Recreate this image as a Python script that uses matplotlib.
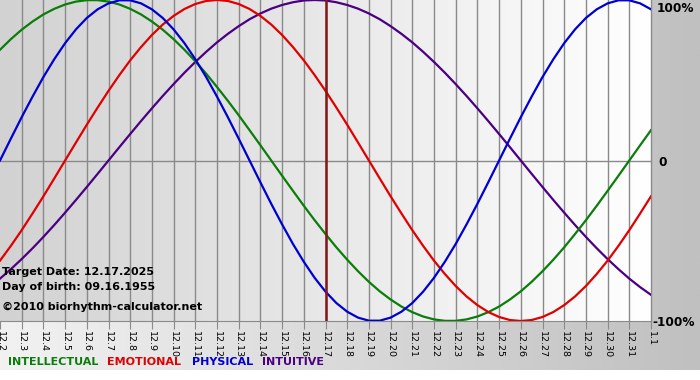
import numpy as np
import matplotlib.pyplot as plt
from matplotlib.colors import LinearSegmentedColormap

days = ["12.2", "12.3", "12.4", "12.5", "12.6", "12.7", "12.8", "12.9", "12.10",
        "12.11", "12.12", "12.13", "12.14", "12.15", "12.16", "12.17", "12.18",
        "12.19", "12.20", "12.21", "12.22", "12.23", "12.24", "12.25", "12.26",
        "12.27", "12.28", "12.29", "12.30", "12.31", "1.1"]
target_day = "12.17"

# values in -1..1 every half day, from 12.2 to 1.1
physical = [0.0, 0.136, 0.270, 0.398, 0.520, 0.631, 0.731, 0.817, 0.888, 0.942, 0.979,
            0.998, 0.998, 0.979, 0.942, 0.888, 0.817, 0.731, 0.631, 0.520, 0.398,
            0.270, 0.136, 0.0, -0.136, -0.270, -0.398, -0.520, -0.631, -0.731,
            -0.817, -0.888, -0.942, -0.979, -0.998, -0.998, -0.979, -0.942, -0.888,
            -0.817, -0.731, -0.631, -0.520, -0.398, -0.270, -0.136, 0.0, 0.136,
            0.270, 0.398, 0.520, 0.631, 0.731, 0.817, 0.888, 0.942, 0.979, 0.998,
            0.998, 0.979, 0.942]
emotional = [-0.624, -0.532, -0.434, -0.330, -0.223, -0.112, 0.0, 0.112, 0.223, 0.330,
             0.434, 0.532, 0.624, 0.707, 0.782, 0.847, 0.901, 0.944, 0.975, 0.994,
             1.0, 0.994, 0.975, 0.944, 0.901, 0.847, 0.782, 0.707, 0.624, 0.532,
             0.434, 0.330, 0.223, 0.112, 0.0, -0.112, -0.223, -0.330, -0.434, -0.532,
             -0.624, -0.707, -0.782, -0.847, -0.901, -0.944, -0.975, -0.994, -1.0,
             -0.994, -0.975, -0.944, -0.901, -0.847, -0.782, -0.707, -0.624, -0.532,
             -0.434, -0.330, -0.223]
intellectual = [0.690, 0.756, 0.815, 0.866, 0.910, 0.945, 0.972, 0.990, 0.999, 0.999,
                0.990, 0.972, 0.945, 0.910, 0.866, 0.815, 0.756, 0.690, 0.618, 0.541,
                0.458, 0.372, 0.282, 0.189, 0.095, 0.0, -0.095, -0.189, -0.282, -0.372,
                -0.458, -0.541, -0.618, -0.690, -0.756, -0.815, -0.866, -0.910, -0.945,
                -0.972, -0.990, -0.999, -0.999, -0.990, -0.972, -0.945, -0.910, -0.866,
                -0.815, -0.756, -0.690, -0.618, -0.541, -0.458, -0.372, -0.282, -0.189,
                -0.095, 0.0, 0.095, 0.189]
intuitive = [-0.736, -0.677, -0.614, -0.547, -0.476, -0.402, -0.325, -0.246, -0.165,
             -0.083, 0.0, 0.083, 0.165, 0.246, 0.325, 0.402, 0.476, 0.547, 0.614,
             0.677, 0.736, 0.789, 0.837, 0.880, 0.916, 0.946, 0.969, 0.986, 0.997,
             1.0, 0.997, 0.986, 0.969, 0.946, 0.916, 0.880, 0.837, 0.789, 0.736,
             0.677, 0.614, 0.547, 0.476, 0.402, 0.325, 0.246, 0.165, 0.083, 0.0,
             -0.083, -0.165, -0.246, -0.325, -0.402, -0.476, -0.547, -0.614, -0.677,
             -0.736, -0.789, -0.837]

fig = plt.figure(figsize=(7, 3.8), dpi=100)

grad = np.linspace(0, 1, 256).reshape(1, -1)
bg = fig.add_axes([0, 0, 1, 1])
bg.set_axis_off()
bg.imshow(grad, cmap=LinearSegmentedColormap.from_list('outer', ['#f2f2f2', '#c0c0c0']),
          extent=[0, 700, 10, 380], aspect='auto')
bg.set_xlim(0, 700)
bg.set_ylim(0, 380)

ax = fig.add_axes([0, 59 / 380, 651 / 700, 321 / 380])
x = np.arange(len(days))
t = np.arange(len(physical)) * 0.5
ax.imshow(grad, cmap=LinearSegmentedColormap.from_list('inner', ['#d2d2d2', '#ffffff']),
          extent=[0, 30, -1, 1], aspect='auto', zorder=0)
ax.set_xlim(0, 30)
ax.set_ylim(-1.0, 1.0)

grid_c = '#8a8a8a'
for i in x[1:]:
    ax.axvline(i, color=grid_c, lw=1, zorder=1, clip_on=False)
ax.axhline(0, color=grid_c, lw=1, zorder=1)

ax.plot(t, intuitive, color='#4b0082', lw=1.6, zorder=3)
ax.plot(t, intellectual, color='#0a7d0a', lw=1.6, zorder=3)
ax.plot(t, emotional, color='#e00000', lw=1.6, zorder=3)
ax.plot(t, physical, color='#0000d0', lw=1.6, zorder=3)
ax.axvline(days.index(target_day), color='#801818', lw=1.8, zorder=4)

for s in ['top', 'left', 'right']:
    ax.spines[s].set_visible(False)
ax.spines['bottom'].set_color(grid_c)
ax.set_yticks([])
ax.set_xticks(x)
ax.set_xticklabels(days, rotation=270, fontsize=6.8)
ax.tick_params(axis='x', length=6, color=grid_c, pad=1)

def px(xp, yp):
    return xp / 700, 1 - yp / 380

fig.text(*px(657, 8), "100%", fontsize=8.7, fontweight='bold', va='center')
fig.text(*px(658, 162), "0", fontsize=8.7, fontweight='bold', va='center')
fig.text(*px(652, 322), "-100%", fontsize=8.7, fontweight='bold', va='center')

fig.text(*px(2, 272), "Target Date: 12.17.2025", fontsize=8, fontweight='bold', va='center')
fig.text(*px(2, 287), "Day of birth: 09.16.1955", fontsize=8, fontweight='bold', va='center')
fig.text(*px(2, 307), "\u00a92010 biorhythm-calculator.net", fontsize=8, fontweight='bold', va='center')

legend = [("INTELLECTUAL", '#0a7d0a'), ("EMOTIONAL", '#e00000'),
          ("PHYSICAL", '#0000d0'), ("INTUITIVE", '#4b0082')]
lx = [8, 107, 192, 262]
for (name, c), xp in zip(legend, lx):
    fig.text(*px(xp, 362), name, fontsize=8, fontweight='bold', color=c, va='center')

fig.savefig('out.png', dpi=100)
